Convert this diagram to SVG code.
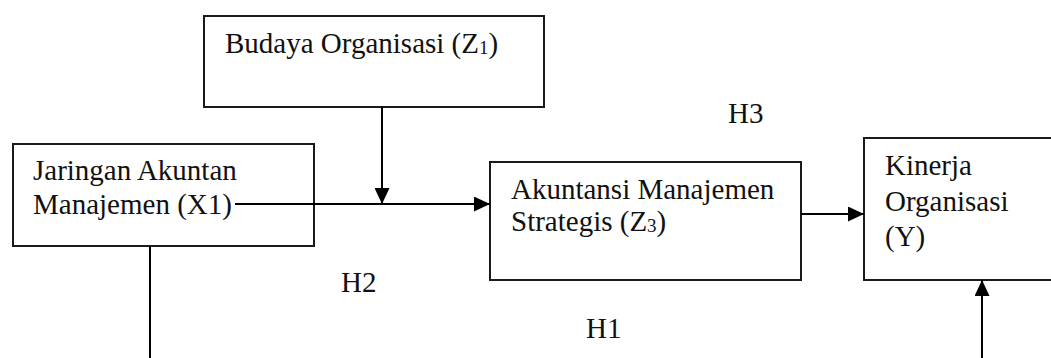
<svg xmlns="http://www.w3.org/2000/svg" width="1051" height="358" viewBox="0 0 1051 358">
<style>
.box{fill:#fff;stroke:#1a1a1a;stroke-width:2}
.t{font-family:"Liberation Serif","Times New Roman",serif;font-size:29px;fill:#111}
.sub{font-size:19px}
.ln{stroke:#000;stroke-width:2;fill:none}
</style>
<defs>
<marker id="ah" markerWidth="16" markerHeight="15" refX="16" refY="7.5" orient="auto" markerUnits="userSpaceOnUse">
<path d="M0,0 L16,7.5 L0,15 Z" fill="#000"/>
</marker>
</defs>
<rect width="1051" height="358" fill="#fff"/>
<g id="budaya">
<rect class="box" x="204" y="16" width="340" height="91"/>
<text class="t" x="225" y="53">Budaya Organisasi (Z<tspan class="sub" dy="1">1</tspan><tspan dy="-1">)</tspan></text>
</g>
<g id="jaringan">
<rect class="box" x="13" y="144" width="301" height="102"/>
<text class="t" x="33" y="180">Jaringan Akuntan</text>
<text class="t" x="33" y="214">Manajemen (X1)</text>
</g>
<g id="akuntansi">
<rect class="box" x="490" y="162" width="311" height="118"/>
<text class="t" x="511" y="199">Akuntansi Manajemen</text>
<text class="t" x="511" y="231">Strategis (Z<tspan class="sub" dy="1">3</tspan><tspan dy="-1">)</tspan></text>
</g>
<g id="kinerja">
<rect class="box" x="864" y="138" width="200" height="142"/>
<text class="t" x="885" y="175">Kinerja</text>
<text class="t" x="885" y="211">Organisasi</text>
<text class="t" x="885" y="246">(Y)</text>
</g>
<g id="connectors">
<line class="ln" x1="235" y1="204" x2="490" y2="204" marker-end="url(#ah)"/>
<line class="ln" x1="382" y1="107" x2="382" y2="204" marker-end="url(#ah)"/>
<line class="ln" x1="801" y1="214" x2="864" y2="214" marker-end="url(#ah)"/>
<line class="ln" x1="150" y1="246" x2="150" y2="358"/>
<line class="ln" x1="982" y1="358" x2="982" y2="280" marker-end="url(#ah)"/>
</g>
<g id="labels">
<text class="t" x="728" y="123">H3</text>
<text class="t" x="341" y="292">H2</text>
<text class="t" x="586" y="338">H1</text>
</g>
</svg>
